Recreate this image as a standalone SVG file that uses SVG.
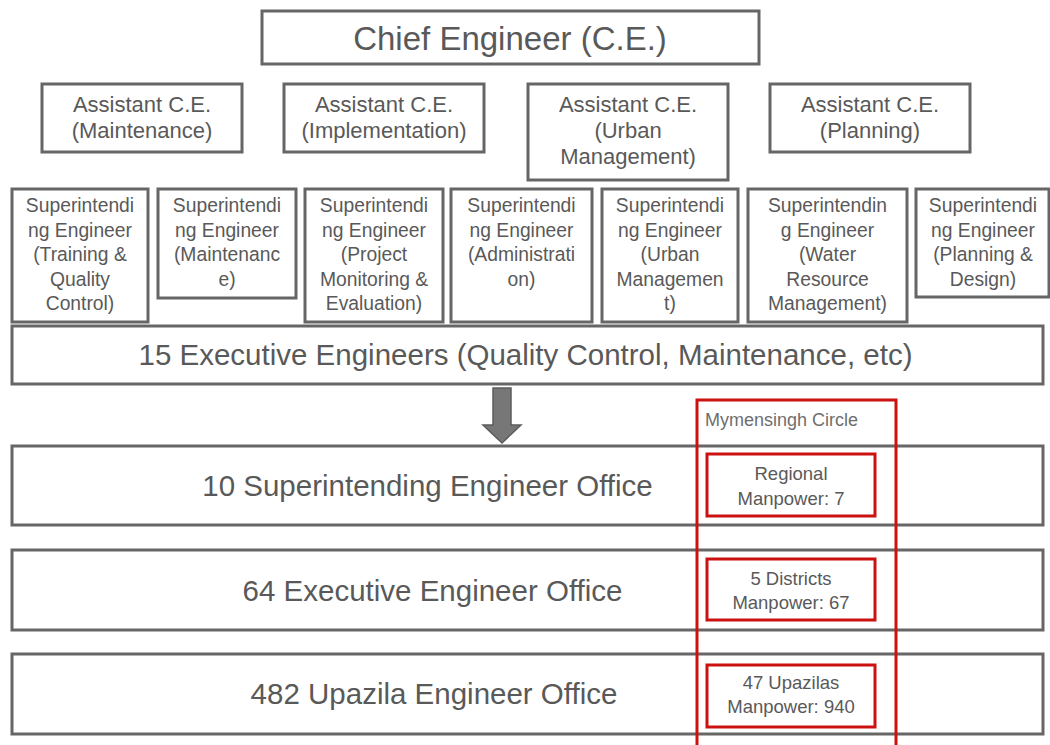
<svg xmlns="http://www.w3.org/2000/svg" width="1050" height="745" viewBox="0 0 1050 745">
  <style>
    .box { fill: #ffffff; stroke: #666666; stroke-width: 3; }
    .red { fill: #ffffff; stroke: #cc1111; stroke-width: 3; }
    .red-frame { fill: none; stroke: #cc1111; stroke-width: 3; }
    text { font-family: "Liberation Sans", Arial, sans-serif; fill: #595959; text-anchor: middle; }
    .t-ce { font-size: 33px; }
    .t-ace { font-size: 22px; }
    .t-se { font-size: 19.3px; }
    .t-band { font-size: 29.5px; }
    .t-circle { font-size: 18px; fill: #6e6e6e; text-anchor: start; }
    .t-red { font-size: 18.5px; }
  </style>
  <rect width="1050" height="745" fill="#ffffff"/>

  <!-- Chief Engineer -->
  <g id="chief-engineer">
    <rect class="box" x="262" y="11" width="497" height="53"/>
    <text class="t-ce" x="510" y="50">Chief Engineer (C.E.)</text>
  </g>

  <!-- Assistant Chief Engineers -->
  <g id="ace-maintenance">
    <rect class="box" x="42" y="84" width="200" height="68"/>
    <text class="t-ace" x="142" y="112">Assistant C.E.</text>
    <text class="t-ace" x="142" y="138">(Maintenance)</text>
  </g>
  <g id="ace-implementation">
    <rect class="box" x="284" y="84" width="200" height="68"/>
    <text class="t-ace" x="384" y="112">Assistant C.E.</text>
    <text class="t-ace" x="384" y="138">(Implementation)</text>
  </g>
  <g id="ace-urban">
    <rect class="box" x="528" y="84" width="200" height="96"/>
    <text class="t-ace" x="628" y="112">Assistant C.E.</text>
    <text class="t-ace" x="628" y="138">(Urban</text>
    <text class="t-ace" x="628" y="164">Management)</text>
  </g>
  <g id="ace-planning">
    <rect class="box" x="770" y="84" width="200" height="68"/>
    <text class="t-ace" x="870" y="112">Assistant C.E.</text>
    <text class="t-ace" x="870" y="138">(Planning)</text>
  </g>

  <!-- Superintending Engineers -->
  <g id="se-training">
    <rect class="box" x="12" y="189" width="136" height="133"/>
    <text class="t-se" x="80" y="212">Superintendi</text>
    <text class="t-se" x="80" y="236.5">ng Engineer</text>
    <text class="t-se" x="80" y="261">(Training &amp;</text>
    <text class="t-se" x="80" y="285.5">Quality</text>
    <text class="t-se" x="80" y="310">Control)</text>
  </g>
  <g id="se-maintenance">
    <rect class="box" x="158" y="189" width="138" height="109"/>
    <text class="t-se" x="227" y="212">Superintendi</text>
    <text class="t-se" x="227" y="236.5">ng Engineer</text>
    <text class="t-se" x="227" y="261">(Maintenanc</text>
    <text class="t-se" x="227" y="285.5">e)</text>
  </g>
  <g id="se-monitoring">
    <rect class="box" x="305" y="189" width="138" height="133"/>
    <text class="t-se" x="374" y="212">Superintendi</text>
    <text class="t-se" x="374" y="236.5">ng Engineer</text>
    <text class="t-se" x="374" y="261">(Project</text>
    <text class="t-se" x="374" y="285.5">Monitoring &amp;</text>
    <text class="t-se" x="374" y="310">Evaluation)</text>
  </g>
  <g id="se-administration">
    <rect class="box" x="451" y="189" width="141" height="133"/>
    <text class="t-se" x="521.5" y="212">Superintendi</text>
    <text class="t-se" x="521.5" y="236.5">ng Engineer</text>
    <text class="t-se" x="521.5" y="261">(Administrati</text>
    <text class="t-se" x="521.5" y="285.5">on)</text>
  </g>
  <g id="se-urban">
    <rect class="box" x="602" y="189" width="136" height="133"/>
    <text class="t-se" x="670" y="212">Superintendi</text>
    <text class="t-se" x="670" y="236.5">ng Engineer</text>
    <text class="t-se" x="670" y="261">(Urban</text>
    <text class="t-se" x="670" y="285.5">Managemen</text>
    <text class="t-se" x="670" y="310">t)</text>
  </g>
  <g id="se-water">
    <rect class="box" x="748" y="189" width="159" height="133"/>
    <text class="t-se" x="827.5" y="212">Superintendin</text>
    <text class="t-se" x="827.5" y="236.5">g Engineer</text>
    <text class="t-se" x="827.5" y="261">(Water</text>
    <text class="t-se" x="827.5" y="285.5">Resource</text>
    <text class="t-se" x="827.5" y="310">Management)</text>
  </g>
  <g id="se-planning">
    <rect class="box" x="916" y="189" width="133" height="108"/>
    <text class="t-se" x="983" y="212">Superintendi</text>
    <text class="t-se" x="983" y="236.5">ng Engineer</text>
    <text class="t-se" x="983" y="261">(Planning &amp;</text>
    <text class="t-se" x="983" y="285.5">Design)</text>
  </g>

  <!-- Executive engineer band -->
  <g id="executive-engineers">
    <rect class="box" x="12" y="326" width="1031" height="58"/>
    <text class="t-band" x="525.5" y="365">15 Executive Engineers (Quality Control, Maintenance, etc)</text>
  </g>

  <!-- Block arrow -->
  <g id="connectors">
    <path d="M493,388 L511,388 L511,425 L521,425 L502,443 L483,425 L493,425 Z" fill="#777777" stroke="#5c5c5c" stroke-width="1.5" stroke-linejoin="miter"/>
  </g>

  <!-- Field office levels -->
  <g id="se-office">
    <rect class="box" x="12" y="446" width="1031" height="79"/>
    <text class="t-band" x="427.5" y="496">10 Superintending Engineer Office</text>
  </g>
  <g id="ee-office">
    <rect class="box" x="12" y="550" width="1031" height="80"/>
    <text class="t-band" x="432.5" y="601">64 Executive Engineer Office</text>
  </g>
  <g id="ue-office">
    <rect class="box" x="12" y="654" width="1031" height="80"/>
    <text class="t-band" x="434" y="704">482 Upazila Engineer Office</text>
  </g>

  <!-- Mymensingh circle highlight -->
  <g id="mymensingh-circle">
    <rect class="red-frame" x="697" y="400" width="199" height="360"/>
    <text class="t-circle" x="705" y="426">Mymensingh Circle</text>
  </g>
  <g id="circle-regional">
    <rect class="red" x="707" y="454" width="168" height="62"/>
    <text class="t-red" x="791" y="480">Regional</text>
    <text class="t-red" x="791" y="505">Manpower: 7</text>
  </g>
  <g id="circle-districts">
    <rect class="red" x="707" y="559" width="168" height="61"/>
    <text class="t-red" x="791" y="585">5 Districts</text>
    <text class="t-red" x="791" y="609">Manpower: 67</text>
  </g>
  <g id="circle-upazilas">
    <rect class="red" x="707" y="665" width="168" height="62"/>
    <text class="t-red" x="791" y="689">47 Upazilas</text>
    <text class="t-red" x="791" y="713">Manpower: 940</text>
  </g>
</svg>
